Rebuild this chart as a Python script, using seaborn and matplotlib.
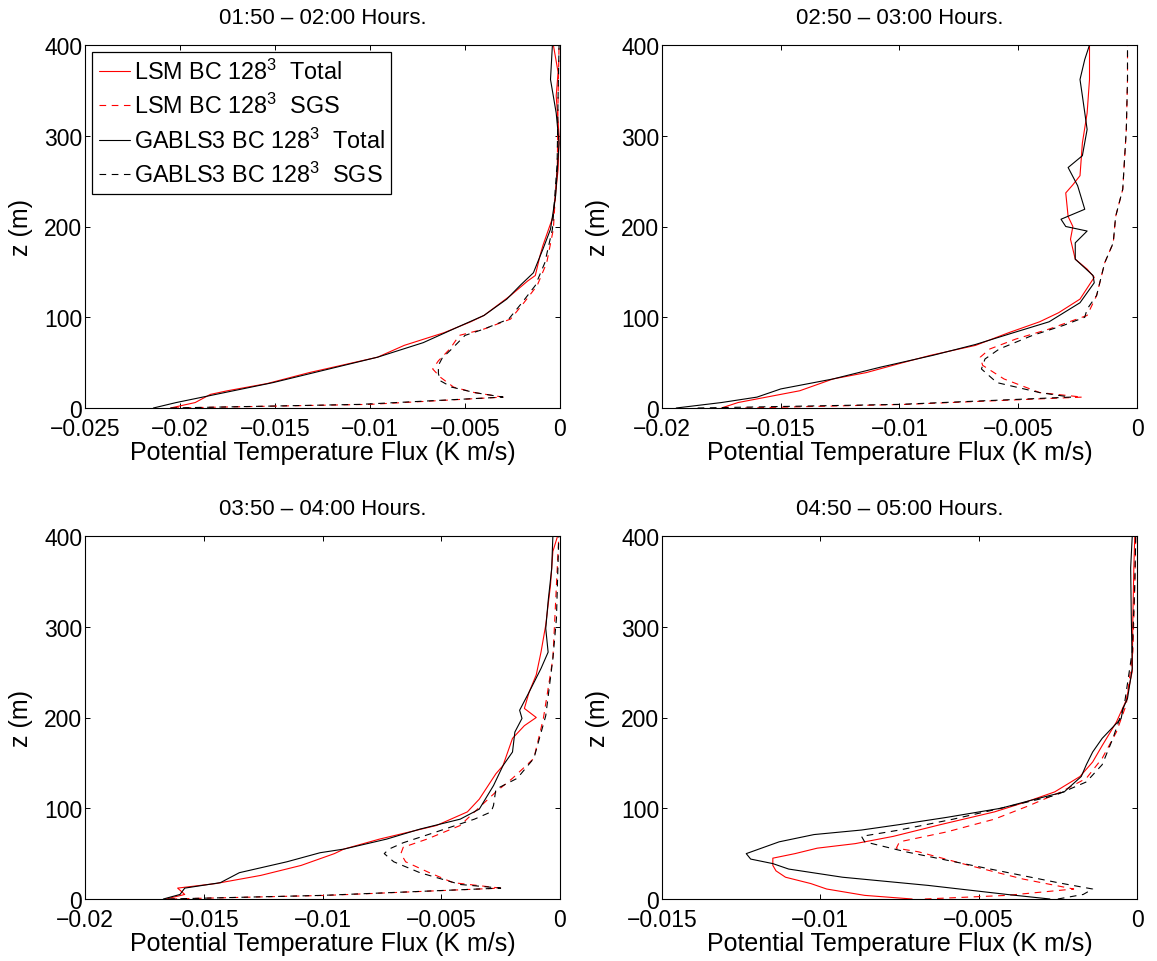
import numpy as np
import pandas as pd
import matplotlib
matplotlib.use('Agg')
import matplotlib.pyplot as plt
import seaborn as sns
from matplotlib.ticker import FuncFormatter

# ---------------- data (z in m, flux in K m/s) ----------------
titles = ["01:50 \u2013 02:00 Hours.", "02:50 \u2013 03:00 Hours.",
          "03:50 \u2013 04:00 Hours.", "04:50 \u2013 05:00 Hours."]
labels = [r"LSM BC 128$^3$  Total", r"LSM BC 128$^3$  SGS",
          r"GABLS3 BC 128$^3$  Total", r"GABLS3 BC 128$^3$  SGS"]
xlims = [-0.025, -0.02, -0.02, -0.015]
xticks_p1 = [-0.025, -0.02, -0.015, -0.01, -0.005, 0]
xticks_p2 = [-0.02, -0.015, -0.01, -0.005, 0]
xticks_p3 = [-0.02, -0.015, -0.01, -0.005, 0]
xticks_p4 = [-0.015, -0.01, -0.005, 0]
yticks = [0, 100, 200, 300, 400]

# Panel 1
p1_lsm_tot_z = [0, 6, 15, 19, 27, 39, 56, 69, 83, 95, 102, 124, 140, 146, 168, 179, 212, 263, 300, 344, 370, 400]
p1_lsm_tot_x = [-0.0205, -0.0192, -0.0184, -0.0175, -0.0154, -0.0132, -0.0096, -0.0082, -0.0061, -0.0047, -0.0040,
                -0.0026, -0.0017, -0.0013, -0.00105, -0.0009, -0.00035, -0.0001, -0.00005, -0.0002, -0.0001, -0.00035]
p1_lsm_sgs_z = [0, 4, 12, 17, 23, 34, 43, 52, 65, 80, 87, 98, 116, 135, 160, 197, 270, 344, 400]
p1_lsm_sgs_x = [-0.0204, -0.0100, -0.0030, -0.0045, -0.0056, -0.0063, -0.0067, -0.0064, -0.0058, -0.0053, -0.0040,
                -0.0026, -0.0019, -0.0012, -0.0007, -0.00035, -0.00014, -0.0001, -0.00005]
p1_gab_tot_z = [0, 6, 28, 56, 72, 89, 102, 120, 135, 149, 175, 197, 234, 292, 325, 362, 400]
p1_gab_tot_x = [-0.0214, -0.0202, -0.0151, -0.0096, -0.0072, -0.0054, -0.0040, -0.0028, -0.0021, -0.0014, -0.0009,
                -0.0005, -0.00023, -0.00005, -0.0002, -0.0005, -0.0004]
p1_gab_sgs_z = [0, 4, 12, 17, 23, 30, 38, 47, 55, 65, 80, 87, 98, 116, 135, 160, 197, 270, 344, 400]
p1_gab_sgs_x = [-0.0205, -0.0105, -0.0030, -0.0045, -0.0057, -0.0063, -0.0064, -0.0064, -0.0062, -0.0057, -0.0050,
                -0.0040, -0.0027, -0.0020, -0.0013, -0.0008, -0.0004, -0.00015, -0.0001, -0.00005]

# Panel 2
p2_lsm_tot_z = [0, 6, 19, 32, 39, 49, 58, 69, 83, 95, 105, 120, 144, 153, 164, 186, 200, 211, 237, 246, 256, 292, 325, 362, 400]
p2_lsm_tot_x = [-0.0175, -0.0168, -0.0142, -0.0128, -0.0114, -0.0100, -0.0087, -0.0068, -0.0054, -0.0041, -0.0033,
                -0.0024, -0.0018, -0.0021, -0.0026, -0.0028, -0.0027, -0.0029, -0.0030, -0.0027, -0.0024, -0.0023,
                -0.0021, -0.0020, -0.0020]
p2_lsm_sgs_z = [0, 4, 12, 17, 32, 47, 56, 65, 76, 87, 102, 124, 160, 182, 211, 241, 307, 362, 400]
p2_lsm_sgs_x = [-0.0165, -0.0097, -0.0023, -0.0041, -0.0056, -0.0065, -0.0066, -0.0062, -0.0051, -0.0037, -0.0021,
                -0.0017, -0.00136, -0.0010, -0.0009, -0.0006, -0.00045, -0.0004, -0.0004]
p2_gab_tot_z = [0, 6, 12, 21, 32, 45, 58, 70, 83, 95, 116, 138, 146, 164, 182, 195, 200, 208, 219, 245, 265, 278, 307, 344, 362, 384, 400]
p2_gab_tot_x = [-0.0194, -0.0175, -0.0160, -0.0150, -0.0128, -0.0108, -0.0086, -0.0068, -0.0052, -0.0037, -0.0024,
                -0.0018, -0.00185, -0.0026, -0.0026, -0.0021, -0.0030, -0.0032, -0.0022, -0.0025, -0.0029, -0.0023,
                -0.0021, -0.0023, -0.0024, -0.0022, -0.0020]
p2_gab_sgs_z = [0, 4, 12, 17, 28, 43, 54, 65, 80, 91, 100, 109, 124, 160, 182, 211, 241, 307, 362, 400]
p2_gab_sgs_x = [-0.0185, -0.0100, -0.0028, -0.0041, -0.0059, -0.00655, -0.0064, -0.0058, -0.0044, -0.0031, -0.0022,
                -0.0021, -0.0017, -0.00136, -0.0010, -0.0009, -0.0006, -0.00045, -0.0004, -0.0004]

# Panel 3
p3_lsm_tot_z = [0, 5, 12, 17, 26, 37, 50, 55, 66, 81, 96, 110, 138, 147, 177, 191, 200, 210, 228, 247, 272, 302, 346, 383, 400]
p3_lsm_tot_x = [-0.0166, -0.0158, -0.0161, -0.0145, -0.0126, -0.0109, -0.0095, -0.0091, -0.0076, -0.0052, -0.0039,
                -0.0034, -0.0027, -0.0024, -0.0020, -0.0015, -0.0010, -0.0015, -0.0013, -0.0010, -0.0008, -0.0006,
                -0.0004, -0.0003, -0.0001]
p3_lsm_sgs_z = [0, 4, 12, 18, 29, 41, 50, 57, 66, 81, 96, 118, 133, 155, 199, 265, 346, 400]
p3_lsm_sgs_x = [-0.0164, -0.0098, -0.0025, -0.0045, -0.0055, -0.0065, -0.0067, -0.0066, -0.0056, -0.0042, -0.0036,
                -0.0027, -0.0020, -0.0011, -0.0007, -0.0003, -0.00015, -0.00005]
p3_gab_tot_z = [0, 5, 12, 18, 29, 41, 51, 55, 66, 77, 88, 99, 125, 147, 162, 184, 199, 208, 228, 254, 272, 298, 328, 364, 400]
p3_gab_tot_x = [-0.0167, -0.0160, -0.0158, -0.0143, -0.0135, -0.0115, -0.0101, -0.0091, -0.0073, -0.0059, -0.0042,
                -0.0034, -0.0028, -0.0024, -0.0020, -0.0019, -0.0016, -0.0017, -0.0013, -0.0008, -0.0005, -0.0006,
                -0.0005, -0.00035, -0.0003]
p3_gab_sgs_z = [0, 4, 12, 16, 29, 41, 50, 55, 62, 74, 88, 96, 103, 121, 133, 155, 202, 265, 309, 400]
p3_gab_sgs_x = [-0.0165, -0.0100, -0.0025, -0.0042, -0.0059, -0.0070, -0.0074, -0.0072, -0.0066, -0.0052, -0.0036,
                -0.0029, -0.0028, -0.0027, -0.0018, -0.0011, -0.0006, -0.0003, -0.00015, -0.00005]

# Panel 4
p4_lsm_tot_z = [0, 4, 11, 17, 24, 31, 37, 45, 50, 56, 61, 69, 82, 96, 107, 118, 135, 151, 169, 195, 219, 251, 310, 365, 400]
p4_lsm_tot_x = [-0.0071, -0.0086, -0.0098, -0.0103, -0.0111, -0.0114, -0.0115, -0.0115, -0.0108, -0.0101, -0.0089,
                -0.0077, -0.0062, -0.0045, -0.0035, -0.0026, -0.0018, -0.0014, -0.0011, -0.00065, -0.00034, -0.00015,
                -0.00013, -0.0001, -0.00007]
p4_lsm_sgs_z = [0, 4, 11, 22, 37, 52, 56, 63, 74, 88, 103, 118, 133, 155, 184, 214, 273, 347, 400]
p4_lsm_sgs_x = [-0.0067, -0.0041, -0.0020, -0.0036, -0.0053, -0.0069, -0.0076, -0.0075, -0.0060, -0.0045, -0.0034,
                -0.0024, -0.0016, -0.0011, -0.00065, -0.00034, -0.00013, -0.00007, -0.00004]
p4_gab_tot_z = [0, 5, 15, 24, 33, 39, 44, 50, 63, 71, 76, 82, 90, 100, 111, 118, 135, 148, 162, 177, 199, 210, 221, 254, 310, 365, 400]
p4_gab_tot_x = [-0.00275, -0.0041, -0.0066, -0.0093, -0.0110, -0.0115, -0.0122, -0.01234, -0.0113, -0.0102, -0.0087,
                -0.0075, -0.0060, -0.0043, -0.0031, -0.0023, -0.00176, -0.0016, -0.0014, -0.0011, -0.0005, -0.00044,
                -0.0003, -0.00015, -0.00018, -0.0002, -0.00015]
p4_gab_sgs_z = [0, 5, 11, 18, 37, 52, 63, 69, 76, 88, 100, 114, 129, 148, 177, 214, 273, 347, 400]
p4_gab_sgs_x = [-0.0025, -0.0017, -0.0014, -0.0025, -0.0052, -0.0073, -0.0086, -0.0087, -0.0075, -0.0058, -0.0043,
                -0.0026, -0.0016, -0.0011, -0.00076, -0.0004, -0.00015, -0.00007, -0.00004]

# ---------------- style ----------------
sns.set_theme(style='ticks')
plt.rcParams['font.family'] = ['Liberation Sans', 'DejaVu Sans']
plt.rcParams['mathtext.fontset'] = 'custom'
plt.rcParams['mathtext.rm'] = 'Liberation Sans'
plt.rcParams['mathtext.it'] = 'Liberation Sans:italic'
plt.rcParams['mathtext.bf'] = 'Liberation Sans:bold'
plt.rcParams['axes.edgecolor'] = 'black'
plt.rcParams['axes.linewidth'] = 0.8
plt.rcParams['text.color'] = 'black'
plt.rcParams['axes.labelcolor'] = 'black'
plt.rcParams['axes.titlecolor'] = 'black'
plt.rcParams['xtick.color'] = 'black'
plt.rcParams['ytick.color'] = 'black'
plt.rcParams['legend.labelcolor'] = 'black'

W, H = 1157, 962
fig = plt.figure(figsize=(W / 100, H / 100), dpi=100)
fig.patch.set_facecolor('white')

positions = [(85, 409), (662, 409), (85, 900), (662, 900)]
aw, ah = 475, 363

panels = [
    [(p1_lsm_tot_x, p1_lsm_tot_z), (p1_lsm_sgs_x, p1_lsm_sgs_z), (p1_gab_tot_x, p1_gab_tot_z), (p1_gab_sgs_x, p1_gab_sgs_z)],
    [(p2_lsm_tot_x, p2_lsm_tot_z), (p2_lsm_sgs_x, p2_lsm_sgs_z), (p2_gab_tot_x, p2_gab_tot_z), (p2_gab_sgs_x, p2_gab_sgs_z)],
    [(p3_lsm_tot_x, p3_lsm_tot_z), (p3_lsm_sgs_x, p3_lsm_sgs_z), (p3_gab_tot_x, p3_gab_tot_z), (p3_gab_sgs_x, p3_gab_sgs_z)],
    [(p4_lsm_tot_x, p4_lsm_tot_z), (p4_lsm_sgs_x, p4_lsm_sgs_z), (p4_gab_tot_x, p4_gab_tot_z), (p4_gab_sgs_x, p4_gab_sgs_z)],
]
xticks_all = [xticks_p1, xticks_p2, xticks_p3, xticks_p4]
colors = ['#ff0000', '#ff0000', 'black', 'black']
styles = ['-', (0, (6, 5)), '-', (0, (6, 5))]

fmt = FuncFormatter(lambda v, p: ('%g' % round(v, 6)).replace('-', '\u2212'))

for i, (series, (left, bottom)) in enumerate(zip(panels, positions)):
    ax = fig.add_axes([left / W, (H - bottom) / H, aw / W, ah / H])
    for j, (xs, zs) in enumerate(series):
        df = pd.DataFrame({'flux': xs, 'z': zs})
        sns.lineplot(data=df, x='flux', y='z', orient='y', sort=False, estimator=None,
                     color=colors[j], linestyle=styles[j], linewidth=0.8,
                     label=labels[j], legend=False, ax=ax)
    ax.set_xlim(xlims[i], 0)
    ax.set_ylim(0, 400)
    ax.set_xticks(xticks_all[i])
    ax.set_yticks(yticks)
    ax.xaxis.set_major_formatter(fmt)
    ax.tick_params(direction='in', top=True, right=True, length=3.5, width=0.7,
                   labelsize=16.5, colors='black')
    ax.tick_params(axis='x', pad=6.5)
    ax.tick_params(axis='y', pad=2)
    ax.set_xlabel('Potential Temperature Flux (K m/s)', fontsize=18, labelpad=0, color='black')
    ax.set_ylabel('z (m)', fontsize=18, labelpad=8, color='black')
    ax.set_title(titles[i], fontsize=16, pad=16, color='black')
    for s in ax.spines.values():
        s.set_visible(True)
        s.set_color('black')
        s.set_linewidth(0.8)
    if i == 0:
        leg = ax.legend(loc='upper left', fontsize=16.8, frameon=True, fancybox=False,
                        handlelength=1.35, handletextpad=0.15, borderaxespad=0.28,
                        borderpad=0.3, labelspacing=0.4)
        leg.get_frame().set_edgecolor('black')
        leg.get_frame().set_linewidth(0.9)
        leg.get_frame().set_alpha(1)
        for t in leg.get_texts():
            t.set_color('black')

fig.savefig('out.png', dpi=100, facecolor='white')
